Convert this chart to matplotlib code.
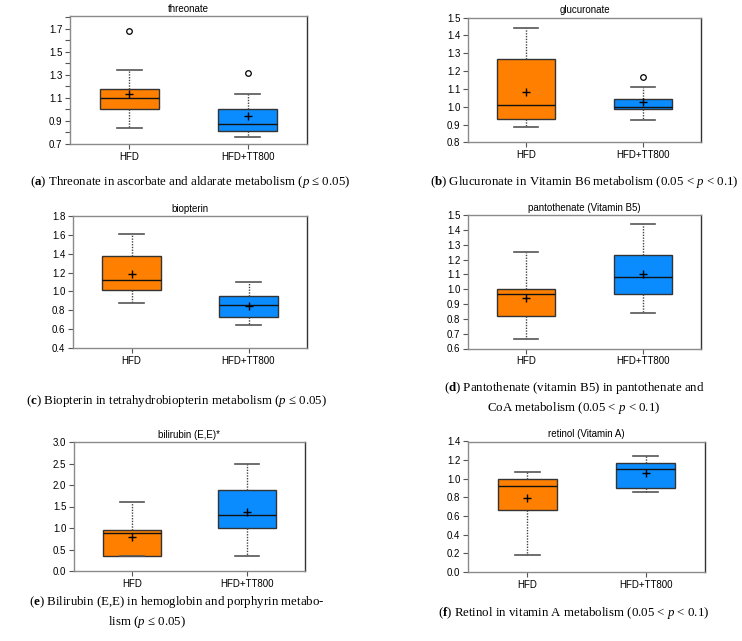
import matplotlib.pyplot as plt
from matplotlib.ticker import MultipleLocator

plt.rcParams['font.family'] = ['Liberation Sans', 'DejaVu Sans']
plt.rcParams['mathtext.fontset'] = 'custom'
plt.rcParams['mathtext.rm'] = 'Liberation Serif'
plt.rcParams['mathtext.it'] = 'Liberation Serif:italic'
plt.rcParams['mathtext.bf'] = 'Liberation Serif:bold'

groups = ['HFD', 'HFD+TT800']
titles = ['threonate', 'glucuronate', 'biopterin', 'pantothenate (Vitamin B5)',
          'bilirubin (E,E)*', 'retinol (Vitamin A)']

# HFD box statistics per panel (a..f)
hfd_whislo = [0.835, 0.885, 0.875, 0.665, 0.36, 0.18]
hfd_q1 = [1.00, 0.93, 1.01, 0.82, 0.36, 0.66]
hfd_med = [1.095, 1.01, 1.12, 0.965, 0.89, 0.92]
hfd_q3 = [1.18, 1.27, 1.375, 1.00, 0.96, 1.00]
hfd_whishi = [1.345, 1.44, 1.605, 1.25, 1.60, 1.07]
hfd_mean = [1.135, 1.08, 1.185, 0.94, 0.78, 0.79]
hfd_fliers = [[1.68], [], [], [], [], []]

# HFD+TT800 box statistics per panel
tt_whislo = [0.76, 0.925, 0.64, 0.84, 0.36, 0.855]
tt_q1 = [0.81, 0.99, 0.725, 0.97, 1.00, 0.905]
tt_med = [0.87, 1.00, 0.855, 1.08, 1.30, 1.10]
tt_q3 = [1.00, 1.045, 0.95, 1.23, 1.89, 1.165]
tt_whishi = [1.135, 1.11, 1.105, 1.44, 2.50, 1.24]
tt_mean = [0.94, 1.025, 0.85, 1.105, 1.38, 1.065]
tt_fliers = [[1.32], [1.165], [], [], [], []]

y_limits = [(0.7, 1.81), (0.8, 1.5), (0.4, 1.8), (0.6, 1.5), (0.0, 3.0), (0.0, 1.4)]
y_major = [0.2, 0.1, 0.2, 0.1, 0.5, 0.2]
y_minor = [0.1, 0.1, 0.2, 0.1, 0.5, 0.2]
y_start = [0.7, 0.8, 0.4, 0.6, 0.0, 0.0]

captions = [
    [r'($\mathbf{a}$) Threonate in ascorbate and aldarate metabolism ($\mathit{p}$ ≤ 0.05)'],
    [r'($\mathbf{b}$) Glucuronate in Vitamin B6 metabolism (0.05 < $\mathit{p}$ < 0.1)'],
    [r'($\mathbf{c}$) Biopterin in tetrahydrobiopterin metabolism ($\mathit{p}$ ≤ 0.05)'],
    [r'($\mathbf{d}$) Pantothenate (vitamin B5) in pantothenate and',
     r'CoA metabolism (0.05 < $\mathit{p}$ < 0.1)'],
    [r'($\mathbf{e}$) Bilirubin (E,E) in hemoglobin and porphyrin metabo-',
     r'lism ($\mathit{p}$ ≤ 0.05)'],
    [r'($\mathbf{f}$) Retinol in vitamin A metabolism (0.05 < $\mathit{p}$ < 0.1)'],
]

W, H = 742, 641
# axes boxes in pixels: left, top, right, bottom
axes_px = [(70, 16, 307, 144), (468, 17.5, 701, 142.5),
           (73, 216, 307, 348), (468, 215, 701, 348.5),
           (74, 442, 305, 571), (468, 441.5, 705, 572)]
# caption lines: x, y, alignment
caption_px = [[(190, 182, 'center')], [(738, 182, 'right')], [(177, 401, 'center')],
              [(574, 388, 'center'), (574, 408, 'center')],
              [(177, 602, 'center'), (147, 622, 'center')], [(574, 613, 'center')]]

colors = ['#FF8000', '#0A8CFF']

fig = plt.figure(figsize=(W / 100, H / 100), dpi=100)

for i in range(6):
    l, t, r, b = axes_px[i]
    ax = fig.add_axes([l / W, 1 - b / H, (r - l) / W, (b - t) / H])
    stats = [
        dict(whislo=hfd_whislo[i], q1=hfd_q1[i], med=hfd_med[i], q3=hfd_q3[i],
             whishi=hfd_whishi[i], mean=hfd_mean[i], fliers=hfd_fliers[i]),
        dict(whislo=tt_whislo[i], q1=tt_q1[i], med=tt_med[i], q3=tt_q3[i],
             whishi=tt_whishi[i], mean=tt_mean[i], fliers=tt_fliers[i]),
    ]
    bp = ax.bxp(stats, positions=[1, 2], widths=0.5, capwidths=0.21,
                showmeans=True, patch_artist=True,
                boxprops=dict(edgecolor='#333333', linewidth=1.0),
                medianprops=dict(color='#111111', linewidth=1.0),
                whiskerprops=dict(color='#444444', linewidth=1.0, linestyle=(0, (1, 1))),
                capprops=dict(color='#555555', linewidth=1.2),
                meanprops=dict(marker='+', markeredgecolor='black', markersize=6,
                               markeredgewidth=1.0),
                flierprops=dict(marker='o', markerfacecolor='none',
                                markeredgecolor='black', markersize=4,
                                markeredgewidth=0.9))
    for patch, c in zip(bp['boxes'], colors):
        patch.set_facecolor(c)

    ax.set_xlim(0.5, 2.5)
    ax.set_ylim(*y_limits[i])
    ax.set_xticks([1, 2])
    ax.set_xticklabels(groups)
    ax.yaxis.set_major_locator(MultipleLocator(y_major[i], offset=y_start[i]))
    ax.yaxis.set_minor_locator(MultipleLocator(y_minor[i], offset=y_start[i]))
    ax.yaxis.set_major_formatter(plt.FuncFormatter(lambda v, p: f'{v:.1f}'))
    ax.tick_params(axis='both', which='both', direction='out', length=3.5,
                   width=0.8, color='#555555', labelsize=7, pad=2)
    ax.set_title(titles[i], fontsize=7, pad=3)
    for name, sp in ax.spines.items():
        sp.set_color('#333333' if name == 'right' else '#8a8a8a')
        sp.set_linewidth(1.0)

    for text, (cx, cy, align) in zip(captions[i], caption_px[i]):
        fig.text(cx / W, 1 - cy / H, text, ha=align, va='center',
                 fontsize=9.3, family=['Liberation Serif', 'DejaVu Serif'])

fig.savefig('out.png', dpi=100)
